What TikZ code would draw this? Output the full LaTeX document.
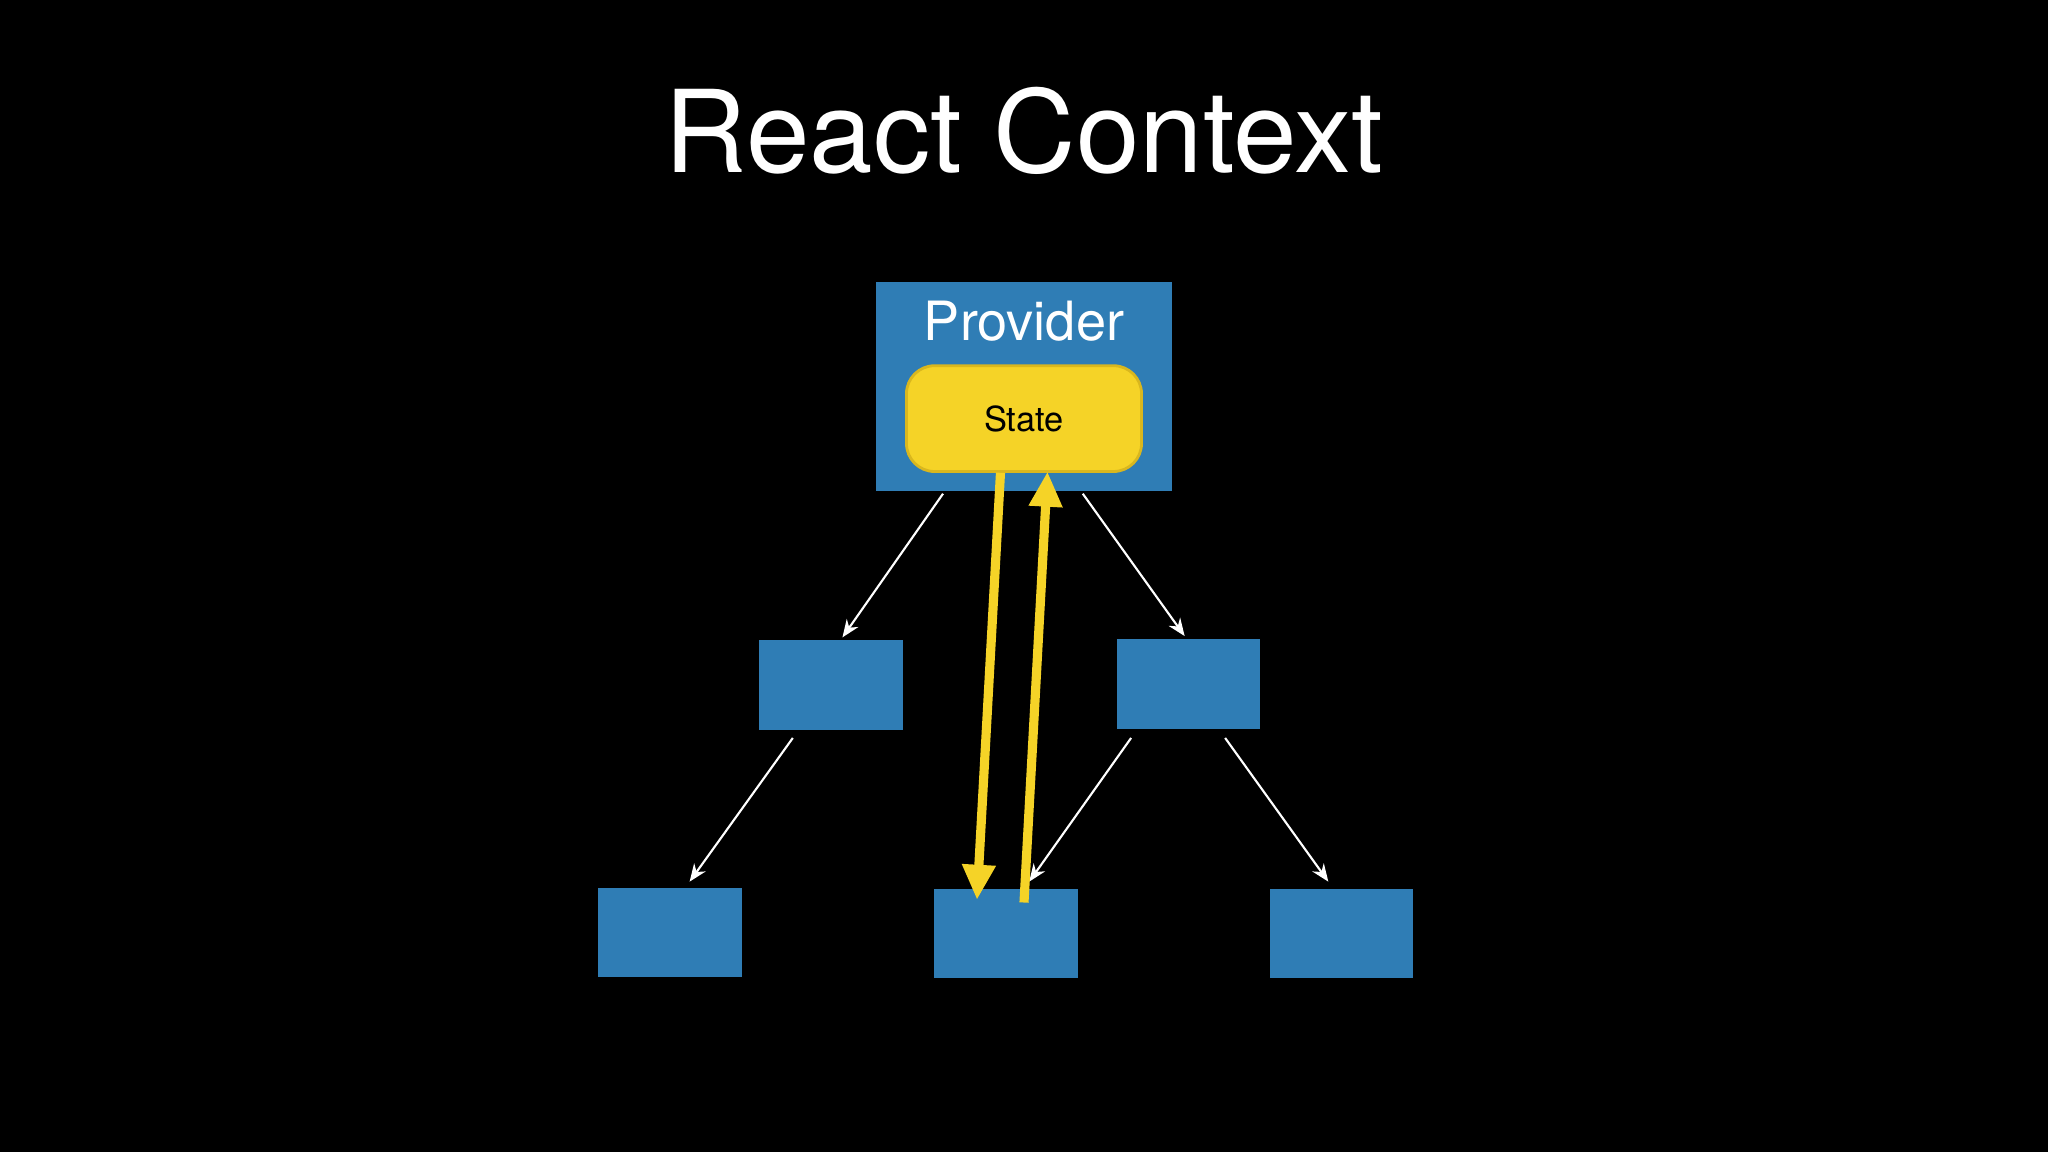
\documentclass[tikz,border=0pt]{standalone}
\usepackage{fontspec}
\setmainfont{TeX Gyre Heros}
\usetikzlibrary{arrows.meta}
\definecolor{boxblue}{HTML}{2F7DB5}
\definecolor{stateyel}{HTML}{F5D327}
\definecolor{stateedge}{HTML}{D9B71E}
\begin{document}
\begin{tikzpicture}[x=0.01306cm,y=-0.01306cm,
  blk/.style={fill=boxblue,draw=none,inner sep=0},
  wa/.style={white,line width=0.6pt,-{Stealth[length=5pt,width=4pt]}},
  ya/.style={stateyel,line width=2.6pt,-{Triangle[length=10pt,width=9pt]}}]
\fill[black] (0,0) rectangle (1568,882);
\useasboundingbox (0,0) rectangle (1568,882);
\node[white,font=\fontsize{32.5}{38}\selectfont] (title) at (784,100) {React Context};
\fill[boxblue] (671,216) rectangle (897,376);
\node[text=white,inner sep=0,font=\fontsize{15.4}{18}\selectfont] (prov) at (784,246) {Provider};
\node[fill=stateyel,draw=stateedge,line width=0.8pt,rounded corners=8pt,minimum width=180*0.01306cm,minimum height=81*0.01306cm,font=\fontsize{9.8}{12}\selectfont] (state) at (784,320.5) {State};
\node[blk,minimum width=110*0.01306cm,minimum height=69*0.01306cm] (ml) at (636,524.5) {};
\node[blk,minimum width=110*0.01306cm,minimum height=69*0.01306cm] (mr) at (910,523.5) {};
\node[blk,minimum width=110*0.01306cm,minimum height=68*0.01306cm] (bl) at (513,714) {};
\node[blk,minimum width=110*0.01306cm,minimum height=68*0.01306cm] (bm) at (770,715) {};
\node[blk,minimum width=110*0.01306cm,minimum height=68*0.01306cm] (br) at (1027,715) {};
\coordinate (a1) at (722,378); \coordinate (a2) at (645,488);
\coordinate (b1) at (829,378); \coordinate (b2) at (907,487);
\coordinate (c1) at (607,565); \coordinate (c2) at (528,675);
\coordinate (d1) at (866,565); \coordinate (d2) at (788,675);
\coordinate (e1) at (938,565); \coordinate (e2) at (1017,675);
\draw[wa] (a1) -- (a2);
\draw[wa] (b1) -- (b2);
\draw[wa] (c1) -- (c2);
\draw[wa] (d1) -- (d2);
\draw[wa] (e1) -- (e2);
\coordinate (y1) at (766,362); \coordinate (y2) at (748,689);
\coordinate (z1) at (784,691); \coordinate (z2) at (802,361);
\draw[ya] (y1) -- (y2);
\draw[ya] (z1) -- (z2);
\end{tikzpicture}
\end{document}
